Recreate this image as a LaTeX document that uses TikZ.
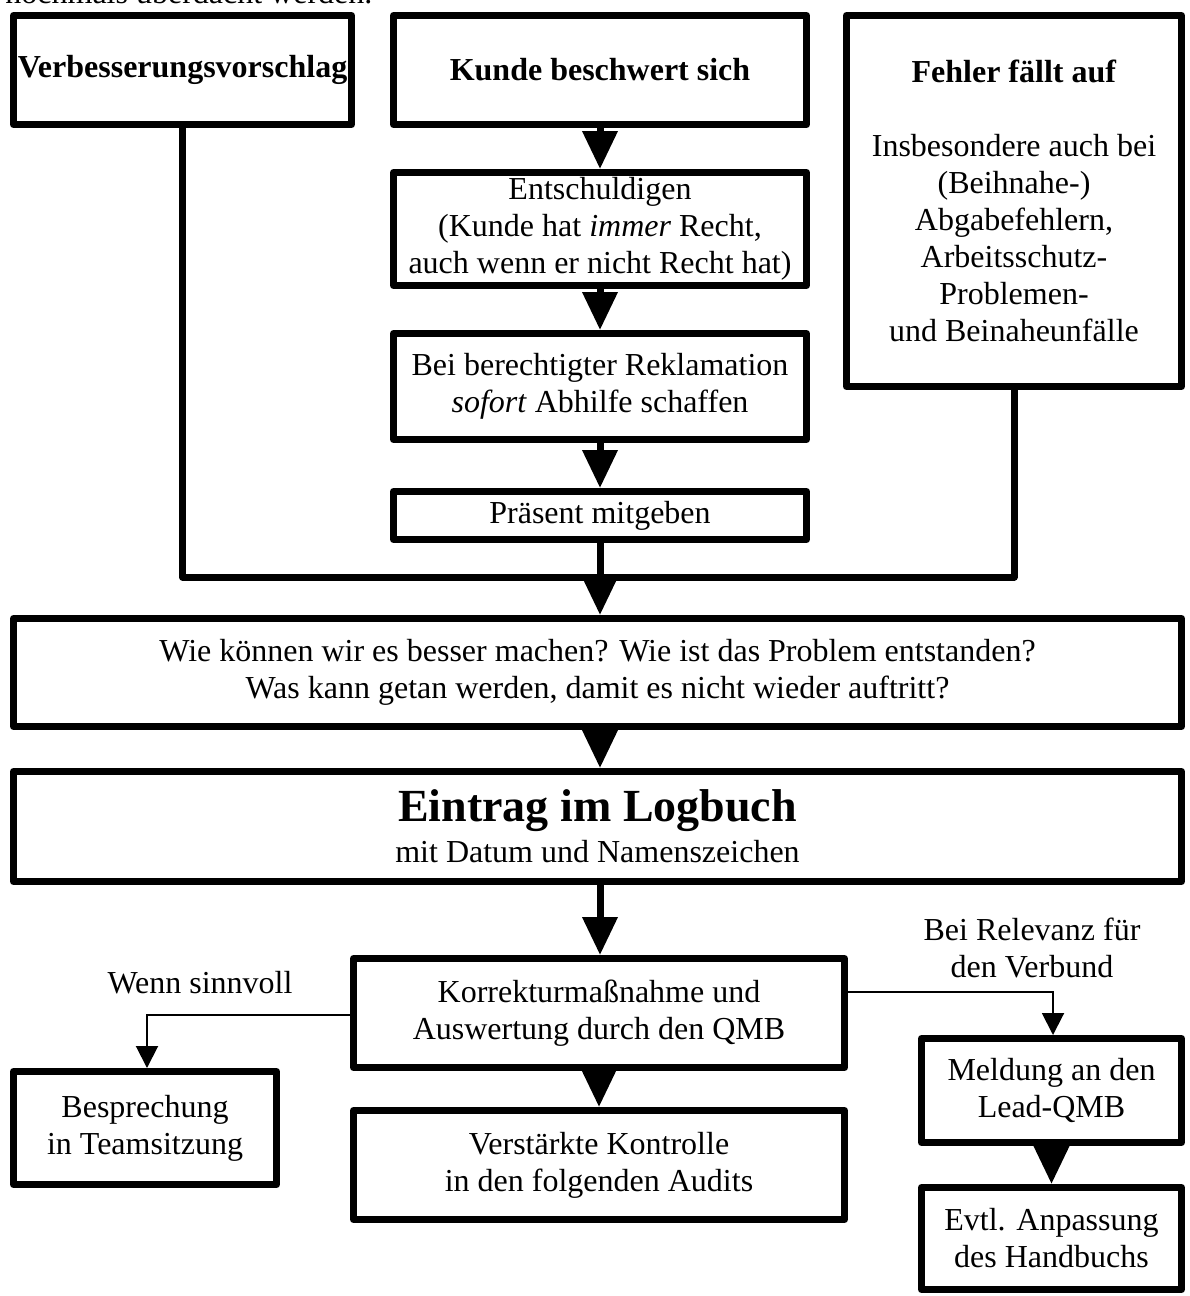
\documentclass[tikz,border=0pt]{standalone}
\usepackage{fontspec}
\setmainfont{Liberation Serif}
\usetikzlibrary{arrows.meta}
\begin{document}
\begin{tikzpicture}[x=0.5pt,y=-0.5pt,
  txt/.style={font=\fontsize{16}{18.5}\selectfont},
  box/.style={txt, draw, line width=3.5pt, line join=round, align=center, inner sep=0pt},
  link/.style={line width=3.5pt},
  bigarrow/.style={link, -{Triangle[width=17pt,length=19pt]}},
  thinarrow/.style={line width=1pt, -{Triangle[width=11pt,length=11pt]}},
]
\clip (0,0) rectangle (1189,1296);
\useasboundingbox (0,0) rectangle (1189,1296);

% text running in from the page above
\node[txt, anchor=base west, inner sep=0pt] (prev) at (5,3) {nochmals überdacht werden.};

% three entry points
\node[box, minimum width=169pt, minimum height=54.5pt] (verb) at (182.5,70)
  {\textbf{Verbesserungsvorschlag}};
\node[box, minimum width=206.5pt, minimum height=54.5pt] (kunde) at (600,70)
  {\textbf{Kunde beschwert sich}};
\node[box, minimum width=167.5pt, minimum height=185.5pt] (fehler) at (1014,201)
  {\textbf{Fehler fällt auf}\\[18.5pt]
   Insbesondere auch bei\\(Beihnahe-)\\Abgabefehlern,\\Arbeitsschutz-\\Problemen-\\und Beinaheunfälle};

% complaint handling
\node[box, minimum width=206.5pt, minimum height=56.5pt] (entsch) at (600,229)
  {Entschuldigen\\(Kunde hat \textit{immer} Recht,\\auch wenn er nicht Recht hat)};
\node[box, minimum width=206.5pt, minimum height=53pt] (abhilfe) at (600,386.5)
  {Bei berechtigter Reklamation\\\textit{sofort} Abhilfe schaffen};
\node[box, minimum width=206.5pt, minimum height=24pt] (praesent) at (600,515.5)
  {Präsent mitgeben};

% analysis and logbook
\node[box, minimum width=584pt, minimum height=54pt] (wie) at (597.5,672.5)
  {Wie können wir es besser machen? Wie ist das Problem entstanden?\\
   Was kann getan werden, damit es nicht wieder auftritt?};
\node[box, minimum width=584pt, minimum height=55pt] (log) at (597.5,826.5)
  {{\fontsize{23}{26}\selectfont\textbf{Eintrag im Logbuch}}\\[2pt]mit Datum und Namenszeichen};

% follow-up
\node[box, minimum width=245.5pt, minimum height=54.5pt] (korr) at (599,1013)
  {Korrekturmaßnahme und\\Auswertung durch den QMB};
\node[box, minimum width=131.5pt, minimum height=56.5pt] (bespr) at (145,1128)
  {Besprechung\\in Teamsitzung};
\node[box, minimum width=245.5pt, minimum height=54.5pt] (kontr) at (599,1165)
  {Verstärkte Kontrolle\\in den folgenden Audits};
\node[box, minimum width=130pt, minimum height=52pt] (meld) at (1051.5,1090.5)
  {Meldung an den\\Lead-QMB};
\node[box, minimum width=130pt, minimum height=51pt] (hb) at (1051.5,1238.5)
  {Evtl. Anpassung\\des Handbuchs};

% connectors
\coordinate (join) at (600,577);
\draw[bigarrow] (kunde) -- (entsch);
\draw[bigarrow] (entsch) -- (abhilfe);
\draw[bigarrow] (abhilfe) -- (praesent);
\draw[link, line join=round] (verb.south) |- (join) -| (fehler.south);
\draw[bigarrow] (praesent.south) -- (praesent.south |- wie.north);
\draw[bigarrow] (wie.south -| praesent.south) -- (log.north -| praesent.south);
\draw[bigarrow] (log.south -| praesent.south) -- (korr.north -| praesent.south);
\draw[bigarrow] (korr) -- (kontr);
\draw[bigarrow] (meld) -- (hb);

\coordinate (lt) at (147,1015);
\coordinate (rt) at (1053,992);
\draw[thinarrow] (korr.west |- lt) -- (lt) -- (lt |- bespr.north);
\draw[thinarrow] (korr.east |- rt) -- (rt) -- (rt |- meld.north);

\node[txt] (wenn) at (200,983) {Wenn sinnvoll};
\node[txt, align=center] (relevanz) at (1032,948) {Bei Relevanz für\\den Verbund};
\end{tikzpicture}
\end{document}
